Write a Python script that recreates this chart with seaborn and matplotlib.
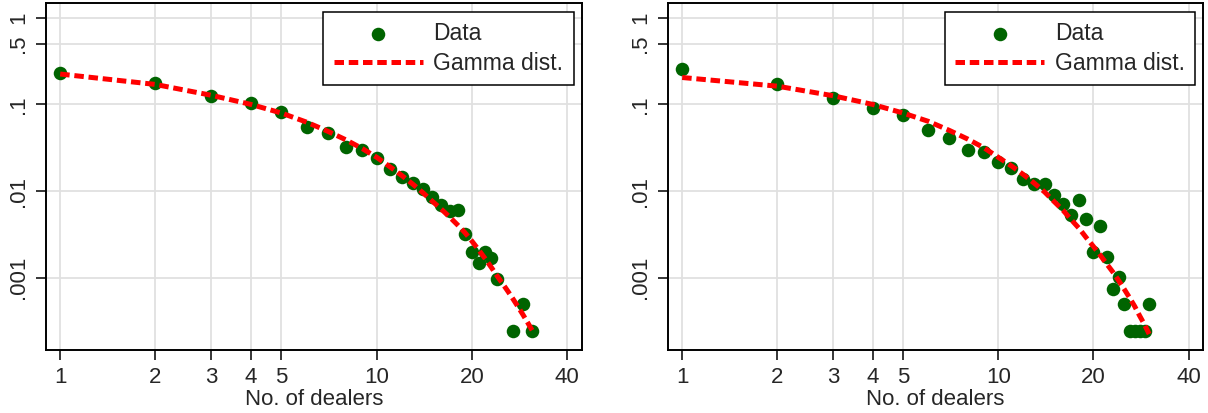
import numpy as np
import pandas as pd
import matplotlib
matplotlib.use("Agg")
import matplotlib.pyplot as plt
import seaborn as sns
from matplotlib.ticker import FixedLocator, FixedFormatter, NullLocator

# ---------------- data ----------------
left_x = [1, 2, 3, 4, 5, 6, 7, 8, 9, 10, 11, 12, 13, 14, 15, 16, 17, 18, 19, 20,
          21, 22, 23, 24, 27, 29, 31]
left_y = [0.232, 0.175, 0.124, 0.103, 0.0817, 0.0553, 0.0464, 0.0325, 0.0298, 0.0243,
          0.018, 0.0147, 0.0123, 0.0105, 0.0086, 0.0069, 0.0059, 0.00605, 0.00316, 0.00197,
          0.00147, 0.00197, 0.0017, 0.00096, 0.000243, 0.000494, 0.000243]
left_fit_x = list(range(1, 32))
left_fit_y = [0.2239, 0.1698, 0.1274, 0.1000, 0.0794, 0.0624, 0.0490, 0.0389, 0.0309, 0.0245,
              0.0191, 0.0151, 0.0120, 0.00955, 0.00759, 0.00617, 0.00501, 0.00407, 0.00331,
              0.00263, 0.00209, 0.00166, 0.00132, 0.00105, 0.000851, 0.000692, 0.000562,
              0.000457, 0.000372, 0.000302, 0.000245]

right_x = [1, 2, 3, 4, 5, 6, 7, 8, 9, 10, 11, 12, 13, 14, 15, 16, 17, 18, 19, 20,
           21, 22, 23, 24, 25, 26, 27, 28, 29, 30]
right_y = [0.258, 0.172, 0.1175, 0.090, 0.0755, 0.0507, 0.0413, 0.0298, 0.0285, 0.0215,
           0.0186, 0.0138, 0.012, 0.0121, 0.009, 0.0071, 0.0053, 0.0079, 0.00477, 0.00197,
           0.00398, 0.00175, 0.00074, 0.00101, 0.0005, 0.000243, 0.000243, 0.000243,
           0.000243, 0.0005]
right_fit_x = list(range(1, 31))
right_fit_y = [0.2042, 0.1622, 0.1259, 0.1000, 0.0794, 0.0638, 0.0501, 0.0398, 0.0316, 0.0245,
               0.0195, 0.0155, 0.0123, 0.00977, 0.00759, 0.00603, 0.00468, 0.00372, 0.00288,
               0.00229, 0.00182, 0.00145, 0.00117, 0.000933, 0.000741, 0.000589, 0.000468,
               0.000363, 0.000288, 0.000224]

x_ticks = [1, 2, 3, 4, 5, 10, 20, 40]
x_tick_labels = ["1", "2", "3", "4", "5", "10", "20", "40"]
y_ticks = [0.001, 0.01, 0.1, 0.5, 1]
y_tick_labels = [".001", ".01", ".1", ".5", "1"]
x_label = "No. of dealers"
legend_labels = ["Data", "Gamma dist."]

# ---------------- style ----------------
sns.set_style("white")
plt.rcParams['font.family'] = ['Liberation Sans', 'DejaVu Sans']
FS = 16

W, H = 1208, 413
fig = plt.figure(figsize=(W / 100, H / 100), dpi=100)

panels = [
    (45.7, 582.0, left_x, left_y, left_fit_x, left_fit_y),
    (667.7, 1203.3, right_x, right_y, right_fit_x, right_fit_y),
]
top_px, bot_px = 3.3, 350.0

for (x0, x1, dx, dy, fx, fy) in panels:
    ax = fig.add_axes([x0 / W, 1 - bot_px / H, (x1 - x0) / W, (bot_px - top_px) / H])
    ax.set_xscale("log")
    ax.set_yscale("log")

    df_pts = pd.DataFrame({"x": dx, "y": dy})
    df_fit = pd.DataFrame({"x": fx, "y": fy})

    sns.scatterplot(data=df_pts, x="x", y="y", ax=ax, s=95, color="#006400",
                    linewidth=0, label=legend_labels[0], zorder=3)
    sns.lineplot(data=df_fit, x="x", y="y", ax=ax, color="#ff0000", lw=3.6,
                 linestyle=(0, (1.9, 0.95)), estimator=None, sort=True,
                 label=legend_labels[1], zorder=4)

    ax.set_xlim(0.9, 44.5)
    ax.set_ylim(1.466e-4, 1.466)

    ax.xaxis.set_major_locator(FixedLocator(x_ticks))
    ax.xaxis.set_major_formatter(FixedFormatter(x_tick_labels))
    ax.xaxis.set_minor_locator(NullLocator())
    ax.yaxis.set_major_locator(FixedLocator(y_ticks))
    ax.yaxis.set_major_formatter(FixedFormatter(y_tick_labels))
    ax.yaxis.set_minor_locator(NullLocator())

    for lab in ax.get_yticklabels():
        lab.set_rotation(90)
        lab.set_va("center")

    ax.tick_params(axis="both", which="major", direction="out", length=7, width=1.1,
                   color="black", labelsize=FS, pad=5, left=True, bottom=True)
    ax.grid(True, color="#e0e0e0", lw=1.3)
    ax.set_axisbelow(True)
    for sp in ax.spines.values():
        sp.set_color("black")
        sp.set_linewidth(1.4)

    ax.set_xlabel(x_label, fontsize=FS, labelpad=1)
    ax.set_ylabel("")

    leg = ax.legend(loc="upper right", bbox_to_anchor=(1, 1), fontsize=16.5,
                    frameon=True, fancybox=False, edgecolor="black", framealpha=1,
                    borderaxespad=0.36, handlelength=3.9, handletextpad=0.45,
                    borderpad=0.45, labelspacing=0.3)
    leg.get_frame().set_linewidth(1.1)

fig.savefig("out.png", dpi=100)
